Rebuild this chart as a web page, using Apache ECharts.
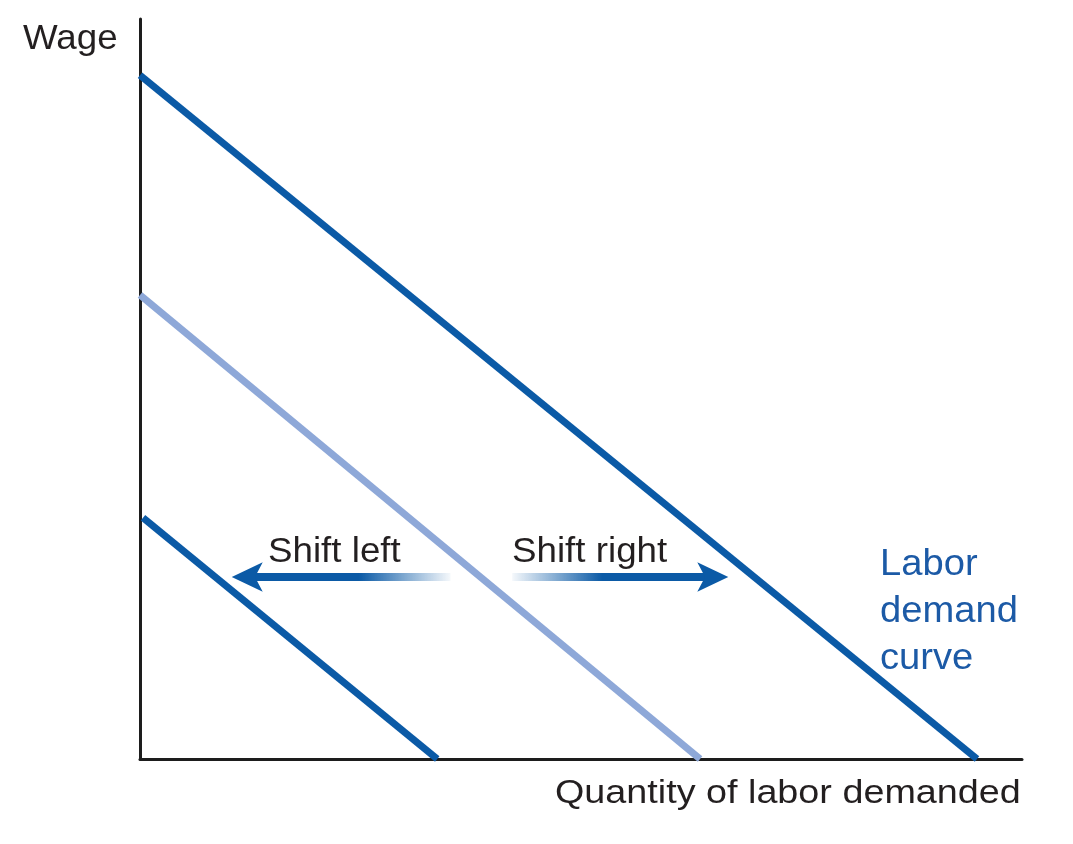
<!DOCTYPE html>
<html>
<head>
<meta charset="utf-8">
<script src="https://cdn.jsdelivr.net/npm/echarts@6/dist/echarts.min.js"></script>
<style>html,body{margin:0;padding:0;background:#fff;}#c{width:1073px;height:844px;}</style>
</head>
<body>
<div id="c"></div>
<script>
// Curves: [quantity, wage] endpoints (axis units 0-100)
const demandCurve = [[0, 92.4], [94.9, 0]];
const originalCurve = [[0, 62.7], [63.5, 0]];
const leftCurve = [[0.34, 32.6], [33.7, 0]];
// Shift arrows: shafts and arrowheads
const arrowY = 24.6;
const leftShaft = [[12.0, arrowY], [35.2, arrowY]];
const rightShaft = [[42.2, arrowY], [65.0, arrowY]];
const leftHead = [[10.4, arrowY]];
const rightHead = [[66.7, arrowY]];

const DARK = '#0b5aa6';
const LIGHT = '#8ea8d8';
const FONT = '"Liberation Sans", Arial, Helvetica, sans-serif';

const chart = echarts.init(document.getElementById('c'));
function grad(solidLeft) {
  return new echarts.graphic.LinearGradient(0, 0, 1, 0, solidLeft ? [
    {offset: 0, color: DARK}, {offset: 0.55, color: DARK}, {offset: 1, color: 'rgba(11,90,166,0)'}
  ] : [
    {offset: 0, color: 'rgba(11,90,166,0)'}, {offset: 0.45, color: DARK}, {offset: 1, color: DARK}
  ]);
}
chart.setOption({
  animation: false,
  grid: {left: 140, right: 51, top: 19, bottom: 85},
  xAxis: {type: 'value', min: 0, max: 100, axisLine: {show: true, lineStyle: {color: '#1d1d1d', width: 3}},
    axisTick: {show: false}, axisLabel: {show: false}, splitLine: {show: false}},
  yAxis: {type: 'value', min: 0, max: 100, axisLine: {show: true, lineStyle: {color: '#1d1d1d', width: 3}},
    axisTick: {show: false}, axisLabel: {show: false}, splitLine: {show: false}},
  series: [
    {type: 'line', data: demandCurve, showSymbol: false, lineStyle: {color: DARK, width: 7}, z: 3},
    {type: 'line', data: originalCurve, showSymbol: false, lineStyle: {color: LIGHT, width: 7}, z: 3},
    {type: 'line', data: leftCurve, showSymbol: false, lineStyle: {color: DARK, width: 7}, z: 3},
    {type: 'line', data: leftShaft, showSymbol: false, lineStyle: {color: grad(true), width: 8}, z: 4},
    {type: 'line', data: rightShaft, showSymbol: false, lineStyle: {color: grad(false), width: 8}, z: 4},
    {type: 'scatter', data: leftHead, symbol: 'arrow', symbolSize: [22, 31], symbolRotate: 90, itemStyle: {color: DARK, opacity: 1}, z: 5},
    {type: 'scatter', data: rightHead, symbol: 'arrow', symbolSize: [22, 31], symbolRotate: -90, itemStyle: {color: DARK, opacity: 1}, z: 5}
  ],
  graphic: [
    {type: 'text', left: 23, top: 22, scaleX: 1.05, style: {text: 'Wage', font: '35px ' + FONT, fill: '#231f20'}},
    {type: 'text', left: 268, top: 535, scaleX: 1.05, style: {text: 'Shift left', font: '35px ' + FONT, fill: '#231f20'}},
    {type: 'text', left: 512, top: 535, scaleX: 1.05, style: {text: 'Shift right', font: '35px ' + FONT, fill: '#231f20'}},
    {type: 'text', left: 880, top: 542, scaleX: 1.06, style: {text: 'Labor\ndemand\ncurve', font: '36px ' + FONT, lineHeight: 47, fill: '#1c5aa6'}},
    {type: 'text', left: 555, top: 777, scaleX: 1.11, style: {text: 'Quantity of labor demanded', font: '34px ' + FONT, fill: '#231f20'}}
  ]
});
</script>
</body>
</html>
